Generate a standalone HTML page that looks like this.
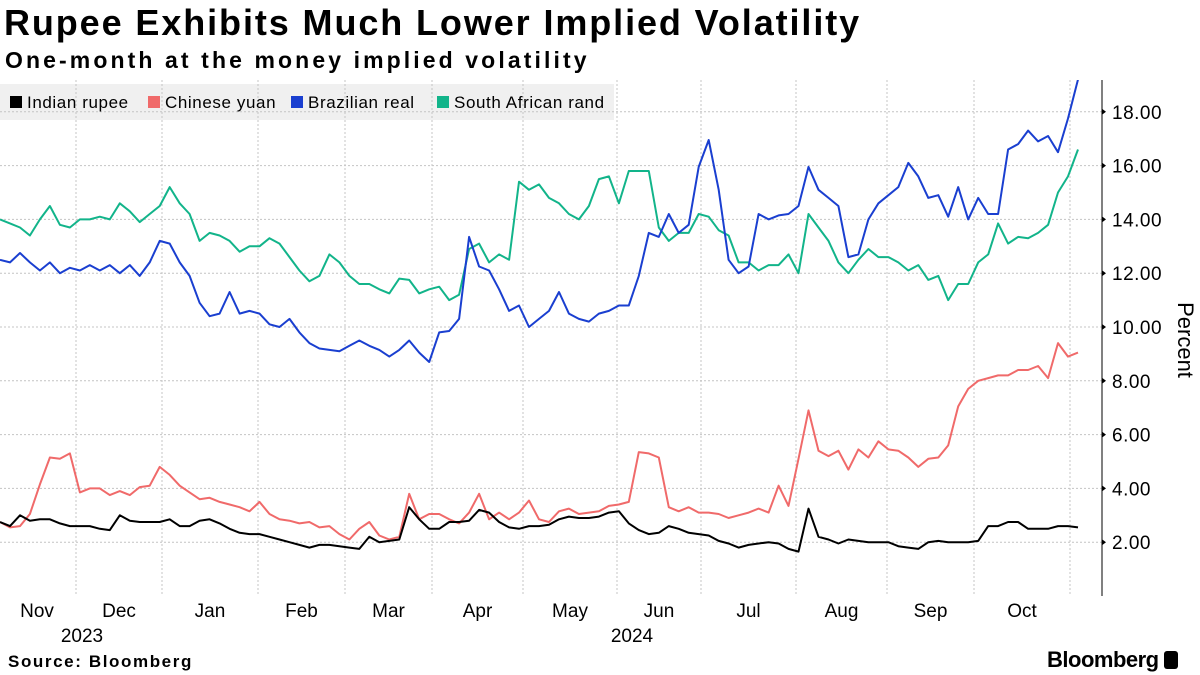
<!DOCTYPE html>
<html><head><meta charset="utf-8"><style>
body{margin:0;width:1200px;height:675px;background:#fff;overflow:hidden;font-family:"Liberation Sans",sans-serif;position:relative}
.t{position:absolute;white-space:nowrap}
</style></head><body>
<div class="t" style="left:4px;top:2px;font-size:36px;font-weight:bold;color:#000;letter-spacing:1.9px">Rupee Exhibits Much Lower Implied Volatility</div>
<div class="t" style="left:5px;top:47px;font-size:23px;font-weight:bold;color:#000;letter-spacing:3.1px">One-month at the money implied volatility</div>
<div class="t" style="left:8px;top:652px;font-size:17px;font-weight:bold;letter-spacing:1.6px">Source: Bloomberg</div>
<div class="t" style="left:1047px;top:647px;font-size:22px;font-weight:bold;letter-spacing:-0.5px">Bloomberg <span style="display:inline-block;width:14px;height:18px;background:#000;border-radius:3px;vertical-align:-2px"></span></div>
<svg id="chart" width="1200" height="675" style="position:absolute;left:0;top:0">
<rect x="0" y="84" width="614" height="36" fill="#f0f0f0"/>
<g id="grid"></g><g id="lines"></g><g id="axis"></g><g id="legend"></g>
</svg>
<script>
const yTicks=[2,4,6,8,10,12,14,16,18];
const monthLabels=["Nov","Dec","Jan","Feb","Mar","Apr","May","Jun","Jul","Aug","Sep","Oct"];
const monthBounds=[76,162,258,345,432,523,617,701,796,887,974,1070];
const seriesNames=["Indian rupee","Chinese yuan","Brazilian real","South African rand"];
const seriesColors=["#000000","#f06a6a","#1a3fd0","#12b48a"];
const rupee=[2.75,2.6,3.0,2.8,2.85,2.85,2.7,2.6,2.6,2.6,2.5,
2.45,3.0,2.8,2.75,2.75,2.75,2.85,2.6,2.6,2.8,
2.85,2.7,2.5,2.35,2.3,2.3,2.2,2.1,2.0,1.9,
1.8,1.9,1.9,1.85,1.8,1.75,2.2,2.0,2.05,2.1,
3.3,2.85,2.5,2.5,2.75,2.75,2.8,3.2,3.1,2.75,
2.55,2.5,2.6,2.6,2.65,2.85,2.95,2.9,2.9,2.95,
3.1,3.15,2.7,2.45,2.3,2.35,2.6,2.5,2.35,2.3,
2.25,2.05,1.95,1.8,1.9,1.95,2.0,1.95,1.75,1.65,
3.25,2.2,2.1,1.95,2.1,2.05,2.0,2.0,2.0,1.85,
1.8,1.75,2.0,2.05,2.0,2.0,2.0,2.05,2.6,2.6,
2.75,2.75,2.5,2.5,2.5,2.6,2.6,2.55];
const yuan=[2.75,2.55,2.6,3.05,4.15,5.15,5.1,5.3,3.85,4.0,4.0,
3.75,3.9,3.75,4.05,4.1,4.8,4.5,4.1,3.85,3.6,
3.65,3.5,3.4,3.3,3.15,3.5,3.05,2.85,2.8,2.7,
2.75,2.55,2.6,2.3,2.1,2.5,2.75,2.25,2.1,2.2,
3.8,2.85,3.05,3.05,2.85,2.7,3.1,3.8,2.85,3.1,
2.85,3.1,3.55,2.85,2.75,3.15,3.25,3.05,3.1,3.15,
3.35,3.4,3.5,5.35,5.3,5.15,3.3,3.15,3.3,3.1,
3.1,3.05,2.9,3.0,3.1,3.25,3.1,4.1,3.35,5.1,
6.9,5.4,5.2,5.4,4.7,5.45,5.15,5.75,5.45,5.4,
5.15,4.8,5.1,5.15,5.6,7.05,7.7,8.0,8.1,8.2,
8.2,8.4,8.4,8.55,8.1,9.4,8.9,9.05];
const real=[12.5,12.4,12.75,12.4,12.1,12.4,12.0,12.2,12.1,12.3,12.1,
12.3,12.0,12.3,11.9,12.4,13.2,13.1,12.4,11.9,10.9,
10.4,10.5,11.3,10.5,10.6,10.5,10.1,10.0,10.3,9.8,
9.4,9.2,9.15,9.1,9.3,9.5,9.3,9.15,8.9,9.15,
9.5,9.05,8.7,9.8,9.85,10.3,13.35,12.25,12.1,11.4,
10.6,10.8,10.0,10.3,10.6,11.3,10.5,10.3,10.2,10.5,
10.6,10.8,10.8,11.9,13.5,13.35,14.2,13.5,13.8,15.95,
16.95,15.1,12.5,12.0,12.25,14.2,14.0,14.15,14.2,14.5,
15.95,15.1,14.8,14.5,12.6,12.7,14.0,14.6,14.9,15.2,
16.1,15.6,14.8,14.9,14.1,15.2,14.0,14.8,14.2,14.2,
16.6,16.8,17.3,16.9,17.1,16.5,17.75,19.2];
const rand=[14.0,13.85,13.7,13.4,14.0,14.5,13.8,13.7,14.0,14.0,14.1,
14.0,14.6,14.3,13.9,14.2,14.5,15.2,14.6,14.2,13.2,
13.5,13.4,13.2,12.8,13.0,13.0,13.3,13.1,12.6,12.1,
11.7,11.9,12.7,12.4,11.9,11.6,11.6,11.4,11.25,11.8,
11.75,11.25,11.4,11.5,11.0,11.2,12.9,13.1,12.4,12.7,
12.5,15.4,15.1,15.3,14.8,14.6,14.2,14.0,14.5,15.5,
15.6,14.6,15.8,15.8,15.8,13.7,13.2,13.5,13.5,14.2,
14.1,13.6,13.4,12.4,12.4,12.1,12.3,12.3,12.7,12.0,
14.2,13.7,13.2,12.4,12.0,12.5,12.9,12.6,12.6,12.4,
12.1,12.3,11.75,11.9,11.0,11.6,11.6,12.4,12.7,13.85,
13.1,13.35,13.3,13.5,13.8,15.0,15.6,16.6];
const NS="http://www.w3.org/2000/svg";
const X0=0,X1=1078,Y0=596,PX=26.9,TOP=80,AX=1102;
function xScale(i,n){return X0+(X1-X0)*i/(n-1);}
function yScale(v){return Y0-v*PX;}
function mk(tag,attrs,parent){const e=document.createElementNS(NS,tag);for(const k in attrs)e.setAttribute(k,attrs[k]);parent.appendChild(e);return e;}
const grid=document.getElementById('grid'),axis=document.getElementById('axis'),lines=document.getElementById('lines'),legend=document.getElementById('legend');
yTicks.forEach(v=>{
 const l=mk('line',{x1:0,x2:AX,y1:yScale(v),y2:yScale(v),stroke:'#c4c4c4','stroke-dasharray':'2,2'},grid);
 
 
 const tk=mk('path',{d:`M${AX} ${yScale(v)-3}l4 3l-4 3z`,fill:'#000'},axis);
 
 
 const t=mk('text',{x:AX+10,y:yScale(v)+7,'font-size':19,fill:'#000','letter-spacing':0.5},axis);
 t.textContent=v.toFixed(2);
 
 
});
monthBounds.forEach((b,i)=>{
 const l=mk('line',{x1:b,x2:b,y1:TOP,y2:Y0,stroke:'#c4c4c4','stroke-dasharray':'2,2'},grid);
 
 
 const prev=i===0?-2:monthBounds[i-1];
 const t=mk('text',{x:(prev+b)/2,y:617,'font-size':19,'text-anchor':'middle',fill:'#000'},axis);
 t.textContent=monthLabels[i];
 
 
});
[["2023",82],["2024",632]].forEach(([s,x])=>{
 const t=mk('text',{x:x,y:642,'font-size':19,'text-anchor':'middle',fill:'#000'},axis);
 t.textContent=s;
 
 
});
const ax=mk('line',{x1:AX,x2:AX,y1:TOP,y2:Y0,stroke:'#000','stroke-width':1},axis);


const pl=mk('text',{x:0,y:0,'font-size':22,fill:'#000',transform:'translate(1178,340) rotate(90)','text-anchor':'middle'},axis);
pl.textContent='Percent';


const clip=mk('clipPath',{id:'pc'},document.getElementById('chart'));
mk('rect',{x:0,y:TOP,width:AX,height:Y0-TOP},clip);
const data=[rupee,yuan,real,rand];
const names=['rupee-line','yuan-line','real-line','rand-line'];
[3,2,1,0].forEach(k=>{
 const arr=data[k];
 const d=arr.map((v,i)=>(i?'L':'M')+xScale(i,arr.length).toFixed(1)+' '+yScale(v).toFixed(1)).join('');
 const p=mk('path',{d:d,fill:'none',stroke:seriesColors[k],'stroke-width':2,'stroke-linejoin':'round','clip-path':'url(#pc)'},lines);
 
 
});
const lx=[10,148,291,437];
seriesNames.forEach((n,i)=>{
 const r=mk('rect',{x:lx[i],y:96,width:12,height:12,fill:seriesColors[i]},legend);
 
 
 const t=mk('text',{x:lx[i]+17,y:108,'font-size':17,fill:'#000','letter-spacing':0.6},legend);
 t.textContent=n;
 
 
});
</script>
</body></html>
